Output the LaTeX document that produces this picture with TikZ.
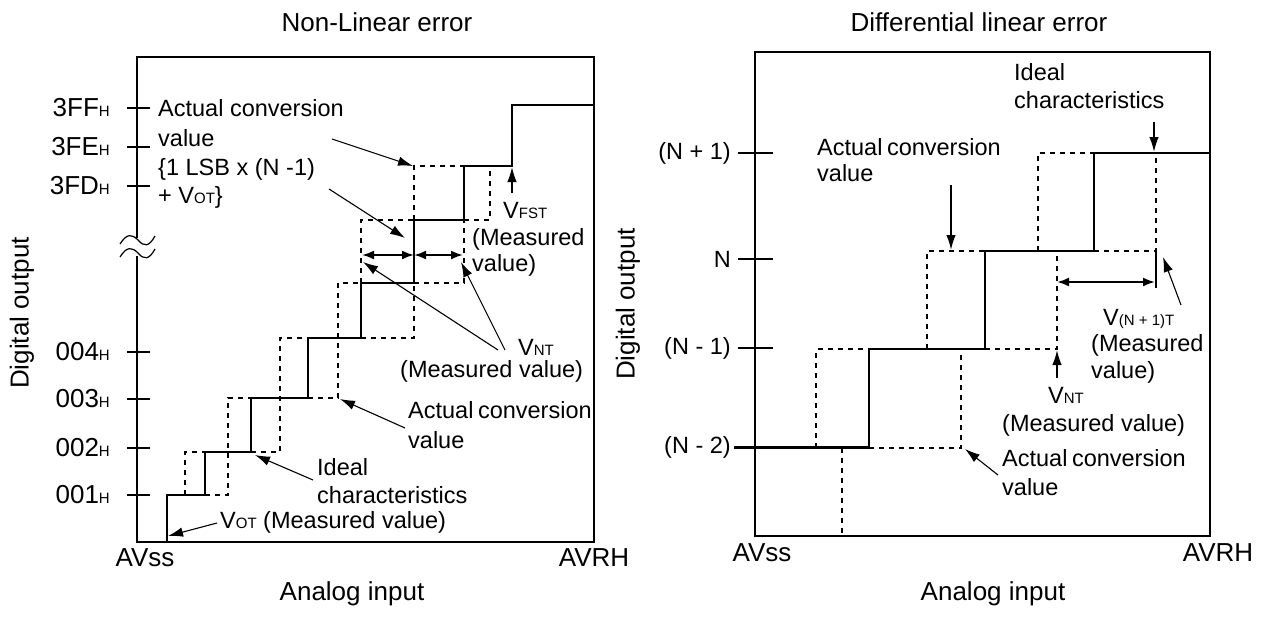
\documentclass[tikz,border=0pt]{standalone}
\usepackage{fontspec}
\setmainfont{Liberation Sans}
\usetikzlibrary{arrows.meta}
\newcommand{\sbs}[1]{{\fontsize{15}{15}\selectfont #1}}
\begin{document}
\begin{tikzpicture}[x=1pt,y=-1pt,
  frame/.style={line width=2.4pt, line cap=rect},
  solidstep/.style={line width=2.4pt, line join=miter},
  thinstep/.style={line width=1.1pt},
  ideal/.style={line width=2pt, dash pattern=on 5pt off 5pt},
  tickline/.style={line width=2pt},
  callout/.style={line width=1.1pt, -{Latex[length=15pt,width=9.5pt]}},
  dblarrow/.style={line width=2pt, {Latex[length=12pt,width=9pt]}-{Latex[length=12pt,width=9pt]}},
  big/.style={font=\fontsize{26}{30}\selectfont, inner sep=0pt},
  lbl/.style={font=\fontsize{23.5}{28}\selectfont, inner sep=0pt, anchor=base west},
  tlbl/.style={font=\fontsize{26}{30}\selectfont, inner sep=0pt, anchor=east},
  rlbl/.style={font=\fontsize{23.5}{28}\selectfont, inner sep=0pt, anchor=east},
]
\useasboundingbox (0,0) rectangle (1276,616);

% ================= LEFT PANEL =================
\node[big] (t1) at (377,22) {Non-Linear error};
\node[big, rotate=90] (yl1) at (22,313) {Digital output};
\node[big] (xl1) at (352,594) {Analog input};
\node[big] (avss1) at (145,558) {AVss};
\node[big] (avrh1) at (594,558) {AVRH};

% frame with broken axis
\draw[frame] (137,237) -- (137,57) -- (594,57) -- (594,542) -- (137,542) -- (137,257);
\draw[line width=1.2pt] (120,244) .. controls (127,233) and (132,234) .. (138,240) .. controls (144,247) and (149,247) .. (155,236);
\draw[line width=1.2pt] (120,257) .. controls (127,246) and (132,247) .. (138,253) .. controls (144,260) and (149,260) .. (155,249);

% ticks and labels
\foreach \yy/\lab/\nm in {108/3FF/a, 147/3FE/b, 186/3FD/c, 352/004/d, 399/003/e, 448/002/f, 495/001/g}{
  \draw[tickline] (127,\yy) -- (150,\yy);
  \node[tlbl] (tk\nm) at (110,\yy) {\lab\sbs{H}};
}

% actual conversion (solid staircase)
\draw[solidstep] (167,542) -- (167,495) -- (205,495) -- (205,452) -- (251,452) -- (251,398)
  -- (308,398) -- (308,338) -- (361,338) -- (361,283) -- (414,283) -- (414,220)
  -- (464,220) -- (464,166) -- (512,166) -- (512,105) -- (594,105);

% ideal (dashed)
\draw[ideal] (185,495) -- (185,452) -- (205,452);
\draw[ideal] (205,495) -- (228,495) -- (228,398) -- (251,398);
\draw[ideal] (251,452) -- (280,452) -- (280,338) -- (308,338);
\draw[ideal] (308,398) -- (338,398) -- (338,283) -- (361,283);
\draw[ideal] (361,338) -- (414,338) -- (414,283);
\draw[ideal] (414,283) -- (464,283) -- (464,220);
\draw[ideal] (361,283) -- (361,220) -- (414,220);
\draw[ideal] (464,220) -- (490,220) -- (490,166);
\draw[ideal] (414,220) -- (414,166) -- (464,166);

% double arrows
\coordinate (da1) at (362,255); \coordinate (da2) at (414,255); \coordinate (da3) at (463,255);
\draw[dblarrow] (da1) -- (da2);
\draw[dblarrow] (da2) -- (da3);

% labels
\node[lbl] (ac1a) at (158,116) {Actual conversion};
\node[lbl] (ac1b) at (158,146) {value};
\node[lbl] (ac1c) at (158,175) {\{1 LSB x (N -1)};
\node[lbl] (ac1d) at (158,203) {+ V\sbs{OT}\}};
\node[lbl] (vfst) at (503,218) {V\sbs{FST}};
\node[lbl] (vfsta) at (472,245) {(Measured};
\node[lbl] (vfstb) at (472,271) {value)};
\node[lbl] (vnt1) at (518,355) {V\sbs{NT}};
\node[lbl] (vnt1b) at (400,377) {(Measured value)};
\node[lbl] (ac2a) at (408,418) {Actual\hspace{-2pt} conversion};
\node[lbl] (ac2b) at (408,448) {value};
\node[lbl] (id1a) at (317,475) {Ideal};
\node[lbl] (id1b) at (317,503) {characteristics};
\node[lbl] (vot) at (220,528) {V\sbs{OT} (Measured value)};

% callout arrows
\coordinate (c1s) at (332,139); \coordinate (c1t) at (413,166);
\coordinate (c2s) at (329,189); \coordinate (c2t) at (405,238);
\coordinate (c3s) at (498,350); \coordinate (c3t) at (363,262);
\coordinate (c4s) at (505,350); \coordinate (c4t) at (461,262);
\coordinate (c5s) at (405,428); \coordinate (c5t) at (340,399);
\coordinate (c6s) at (313,480); \coordinate (c6t) at (255,455);
\coordinate (c7s) at (217,523); \coordinate (c7t) at (168,536);
\coordinate (c8s) at (512,193); \coordinate (c8t) at (512,167);
\draw[callout] (c1s) -- (c1t);
\draw[callout] (c2s) -- (c2t);
\draw[callout] (c3s) -- (c3t);
\draw[callout] (c4s) -- (c4t);
\draw[callout] (c5s) -- (c5t);
\draw[callout] (c6s) -- (c6t);
\draw[callout] (c7s) -- (c7t);
\draw[callout, line width=1.6pt] (c8s) -- (c8t);

% ================= RIGHT PANEL =================
\node[big] (t2) at (979,22) {Differential linear error};
\node[big, rotate=90] (yl2) at (628,304) {Digital output};
\node[big] (xl2) at (993,594) {Analog input};
\node[big] (avss2) at (762,553) {AVss};
\node[big] (avrh2) at (1218,553) {AVRH};

\draw[frame] (755,52) rectangle (1210,536);

\foreach \yy/\lab/\nm in {153/(N + 1)/a, 259/N/b, 348/(N - 1)/c}{
  \draw[tickline] (738,\yy) -- (773,\yy);
  \node[rlbl] (rt\nm) at (731,\yy) {\lab};
}
\node[rlbl] (rtd) at (731,447) {(N - 2)};

% actual (solid)
\draw[solidstep] (734,447.5) -- (869,447.5) -- (869,349) -- (985,349) -- (985,251) -- (1094,251);
\draw[thinstep] (1094,251) -- (1094,153);
\draw[solidstep] (1094,153) -- (1210,153);

% ideal (dashed)
\draw[ideal] (816,447.5) -- (816,349) -- (869,349);
\draw[ideal] (869,447.5) -- (961,447.5) -- (961,349);
\draw[ideal] (842,447.5) -- (842,536);
\draw[ideal] (927,349) -- (927,251) -- (985,251);
\draw[ideal] (985,349) -- (1057,349) -- (1057,251);
\draw[ideal] (1038,251) -- (1038,153) -- (1094,153);
\draw[ideal] (1094,251) -- (1156,251) -- (1156,153);
\draw[thinstep, line width=1.6pt] (1156,251) -- (1156,288);

% double arrow
\coordinate (rda1) at (1057,282); \coordinate (rda2) at (1155,282);
\draw[dblarrow] (rda1) -- (rda2);

% labels
\node[lbl] (rid1) at (1014,80) {Ideal};
\node[lbl] (rid2) at (1014,108) {characteristics};
\node[lbl] (rac1) at (817,155) {Actual\hspace{-2pt} conversion};
\node[lbl] (rac2) at (817,181) {value};
\node[lbl] (rvn1) at (1103,325) {V\sbs{(N + 1)T}};
\node[lbl] (rvn2) at (1091,351) {(Measured};
\node[lbl] (rvn3) at (1091,378) {value)};
\node[lbl] (rvnt) at (1048,403) {V\sbs{NT}};
\node[lbl] (rvnt2) at (1002,431) {(Measured value)};
\node[lbl] (rac3) at (1002,466) {Actual\hspace{-2pt} conversion};
\node[lbl] (rac4) at (1002,495) {value};

% callout arrows
\coordinate (r1s) at (951,185); \coordinate (r1t) at (951,250);
\coordinate (r2s) at (1154,122); \coordinate (r2t) at (1154,152);
\coordinate (r3s) at (1181,305); \coordinate (r3t) at (1163,257);
\coordinate (r4s) at (1057,378); \coordinate (r4t) at (1057,350);
\coordinate (r5s) at (998,475); \coordinate (r5t) at (965,449);
\draw[callout, line width=1.6pt] (r1s) -- (r1t);
\draw[callout, line width=1.6pt] (r2s) -- (r2t);
\draw[callout] (r3s) -- (r3t);
\draw[callout, line width=1.6pt] (r4s) -- (r4t);
\draw[callout] (r5s) -- (r5t);
\end{tikzpicture}
\end{document}
